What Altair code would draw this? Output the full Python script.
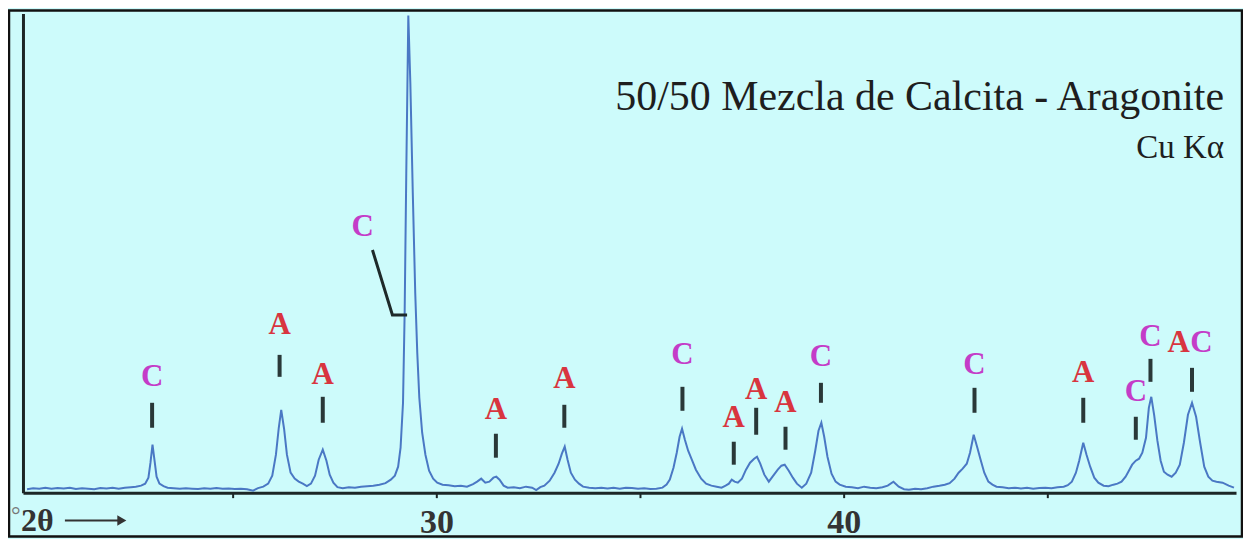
import altair as alt
import pandas as pd

# ---------------- data ----------------
two_theta = [
    19.95, 20.10, 20.25, 20.40, 20.55, 20.70, 20.85, 21.00, 21.15, 21.30, 21.45, 21.60, 21.75, 21.90,
    22.05, 22.20, 22.35, 22.50, 22.62, 22.75, 22.85, 22.93, 22.98, 23.03, 23.08, 23.13, 23.20, 23.30,
    23.40, 23.55, 23.70, 23.85, 24.00, 24.15, 24.30, 24.45, 24.60, 24.75, 24.90, 25.05, 25.20, 25.35,
    25.50, 25.62, 25.75, 25.87, 25.97, 26.06, 26.13, 26.19, 26.26, 26.33, 26.42, 26.52, 26.62, 26.72,
    26.82, 26.92, 27.02, 27.11, 27.21, 27.30, 27.38, 27.47, 27.57, 27.70, 27.85, 28.00, 28.15, 28.30,
    28.45, 28.60, 28.75, 28.88, 28.98, 29.06, 29.12, 29.18, 29.22, 29.26, 29.31, 29.36, 29.42, 29.48,
    29.53, 29.58, 29.65, 29.73, 29.82, 29.92, 30.02, 30.15, 30.30, 30.45, 30.60, 30.75, 30.90, 31.00,
    31.10, 31.20, 31.30, 31.40, 31.47, 31.55, 31.65, 31.75, 31.90, 32.05, 32.20, 32.35, 32.45, 32.55,
    32.65, 32.78, 32.90, 33.00, 33.08, 33.15, 33.22, 33.30, 33.40, 33.50, 33.60, 33.75, 33.90, 34.05,
    34.20, 34.35, 34.50, 34.65, 34.80, 34.95, 35.10, 35.25, 35.40, 35.55, 35.65, 35.73, 35.82, 35.90,
    35.97, 36.03, 36.10, 36.18, 36.27, 36.37, 36.50, 36.62, 36.75, 36.88, 37.00, 37.10, 37.18, 37.25,
    37.32, 37.40, 37.50, 37.60, 37.70, 37.80, 37.87, 37.95, 38.05, 38.16, 38.27, 38.38, 38.47, 38.55,
    38.65, 38.75, 38.85, 38.97, 39.08, 39.20, 39.30, 39.38, 39.45, 39.52, 39.60, 39.70, 39.80, 39.90,
    40.05, 40.20, 40.35, 40.50, 40.65, 40.80, 40.95, 41.08, 41.22, 41.35, 41.48, 41.60, 41.75, 41.90,
    42.05, 42.20, 42.35, 42.48, 42.60, 42.72, 42.82, 42.92, 43.02, 43.10, 43.19, 43.28, 43.36, 43.45,
    43.55, 43.65, 43.75, 43.90, 44.05, 44.20, 44.35, 44.50, 44.65, 44.80, 44.95, 45.10, 45.25, 45.40,
    45.50, 45.60, 45.70, 45.78, 45.88, 45.96, 46.05, 46.15, 46.25, 46.38, 46.50, 46.62, 46.72, 46.82,
    46.92, 47.00, 47.08, 47.17, 47.25, 47.33, 47.42, 47.49, 47.55, 47.62, 47.70, 47.78, 47.86, 47.95,
    48.05, 48.15, 48.25, 48.35, 48.45, 48.55, 48.65, 48.75, 48.85, 48.95, 49.05, 49.15, 49.30, 49.45,
    49.58,
]
intensity = [
    35, 45, 40, 48, 38, 46, 42, 50, 36, 44, 40, 35, 46, 42,
    48, 40, 50, 55, 60, 70, 90, 150, 300, 480, 320, 160, 90, 65,
    50, 45, 38, 45, 40, 36, 44, 40, 46, 38, 42, 36, 40, 34,
    20, 45, 60, 90, 170, 380, 650, 830, 640, 380, 200, 140, 110, 90,
    65, 90, 170, 330, 430, 320, 180, 100, 55, 45, 55, 50, 60, 65,
    70, 80, 95, 130, 170, 260, 450, 900, 1800, 3200, 4780, 4100, 3000, 2000,
    1400, 950, 600, 380, 220, 140, 100, 80, 75, 65, 70, 60, 85, 110,
    140, 100, 110, 150, 160, 130, 70, 50, 55, 45, 60, 50, 25, 55,
    70, 120, 200, 290, 390, 460, 330, 200, 130, 90, 60, 50, 45, 50,
    42, 48, 40, 50, 46, 40, 44, 36, 40, 50, 80, 130, 250, 400,
    560, 640, 530, 420, 330, 230, 140, 90, 70, 60, 50, 70, 90, 130,
    110, 100, 140, 230, 300, 340, 360, 290, 180, 110, 170, 230, 270, 280,
    220, 150, 90, 50, 90, 200, 420, 620, 700, 560, 360, 190, 110, 80,
    60, 55, 45, 60, 50, 45, 55, 70, 110, 60, 35, 30, 40, 35,
    45, 60, 70, 80, 95, 140, 200, 240, 290, 400, 580, 450, 330, 200,
    110, 80, 60, 55, 45, 50, 42, 48, 40, 46, 50, 45, 55, 60,
    75, 110, 200, 320, 500, 380, 260, 150, 100, 70, 65, 80, 90, 110,
    160, 220, 280, 320, 340, 400, 550, 850, 960, 780, 520, 320, 210, 180,
    160, 200, 280, 500, 780, 900, 760, 500, 260, 160, 120, 110, 100, 70,
    50,
]

# peak markers (short dark bars)
bar_x = [23.02, 26.15, 27.21, 31.46, 33.14, 36.04, 37.30, 37.85, 38.57, 39.44, 43.21, 45.88, 47.17, 47.53, 48.55]
bar_top = [900, 1380, 960, 590, 880, 1060, 510, 850, 660, 1100, 1050, 950, 760, 1340, 1250]
bar_bottom = [650, 1160, 700, 350, 650, 820, 280, 580, 430, 900, 800, 700, 530, 1110, 1010]

# phase letters (A = aragonite, C = calcite)
letter_x = [23.02, 26.15, 27.21, 31.46, 33.14, 36.04, 37.30, 37.85, 38.57, 39.44, 43.21, 45.88, 47.17, 47.53, 48.22, 48.78, 28.19]
letter_y = [1160, 1680, 1180, 830, 1140, 1380, 750, 1030, 900, 1360, 1280, 1200, 1010, 1560, 1500, 1500, 2660]
letter_t = ["C", "A", "A", "A", "A", "C", "A", "A", "A", "C", "C", "A", "C", "C", "A", "C", "C"]

# leader line for the main calcite peak
leader_x = [28.43, 28.92, 29.28]
leader_y = [2430, 1780, 1780]

title_text = "50/50 Mezcla de Calcita - Aragonite"
subtitle_text = "Cu K\u03b1"
tick_values = [25, 30, 35, 40, 45]

# ---------------- build chart ----------------
BG = "#cdfbfb"
W, H = 1215, 480
x_scale = alt.Scale(domain=[19.85, 49.63], nice=False, zero=False)
y_scale = alt.Scale(domain=[0, 4800], nice=False, zero=True)

trace = pd.DataFrame({"two_theta": two_theta, "intensity": intensity})
bars = pd.DataFrame({"x": bar_x, "y": bar_top, "y2": bar_bottom})
letters = pd.DataFrame({"x": letter_x, "y": letter_y, "t": letter_t})
leader = pd.DataFrame({"x": leader_x, "y": leader_y, "o": list(range(len(leader_x)))})

x_axis = alt.Axis(
    values=tick_values,
    labelExpr="datum.value % 10 == 0 ? datum.label : ''",
    domainColor="#1c2626", domainWidth=3,
    tickColor="#1c2626", tickWidth=2, tickSize=5,
    labelFont="Liberation Serif", labelFontSize=34, labelFontWeight="bold",
    labelColor="#333333", labelPadding=8, labelFlush=False,
    grid=False, title=None,
)
y_axis = alt.Axis(
    domainColor="#1c2626", domainWidth=3, ticks=False, labels=False,
    grid=False, title=None,
)

line = alt.Chart(trace).mark_line(color="#4a78c4", strokeWidth=2).encode(
    x=alt.X("two_theta:Q", scale=x_scale, axis=x_axis),
    y=alt.Y("intensity:Q", scale=y_scale, axis=y_axis),
)

bar_marks = alt.Chart(bars).mark_rule(color="#2a3838", strokeWidth=4).encode(
    x=alt.X("x:Q", scale=x_scale),
    y=alt.Y("y:Q", scale=y_scale),
    y2="y2:Q",
)

leader_line = alt.Chart(leader).mark_line(color="#1e2a2a", strokeWidth=3).encode(
    x=alt.X("x:Q", scale=x_scale),
    y=alt.Y("y:Q", scale=y_scale),
    order="o:Q",
)

letter_marks = alt.Chart(letters).mark_text(
    font="Liberation Serif", fontSize=31, fontWeight="bold", baseline="middle", align="center"
).encode(
    x=alt.X("x:Q", scale=x_scale),
    y=alt.Y("y:Q", scale=y_scale),
    text="t:N",
    color=alt.Color("t:N", scale=alt.Scale(domain=["A", "C"], range=["#d8353f", "#c43cc8"]), legend=None),
)

one = pd.DataFrame({"k": [0]})
title_mark = alt.Chart(one).mark_text(
    text=title_text, font="Liberation Serif", fontSize=42, align="right", baseline="alphabetic", color="#1e1e1e"
).encode(x=alt.value(1203), y=alt.value(97))
sub_mark = alt.Chart(one).mark_text(
    text=subtitle_text, font="Liberation Serif", fontSize=33, align="right", baseline="alphabetic", color="#1e1e1e"
).encode(x=alt.value(1203), y=alt.value(145))

deg_mark = alt.Chart(one).mark_text(
    text="\u00b0", font="Liberation Serif", fontSize=24, align="left", baseline="alphabetic", color="#777777"
).encode(x=alt.value(-12), y=alt.value(510))
twotheta_mark = alt.Chart(one).mark_text(
    text="2\u03b8", font="Liberation Serif", fontSize=32, fontWeight="bold", align="left",
    baseline="alphabetic", color="#333333"
).encode(x=alt.value(-2), y=alt.value(518))
arrow_shaft = alt.Chart(one).mark_rule(color="#333333", strokeWidth=2).encode(
    x=alt.value(42), x2=alt.value(98), y=alt.value(508)
)
arrow_head = alt.Chart(one).mark_point(
    shape="triangle-right", filled=True, color="#333333", size=110, opacity=1
).encode(x=alt.value(99), y=alt.value(508))

frame = alt.Chart(one).mark_rect(fill=None, stroke="#111111", strokeWidth=2.5).encode(
    x=alt.value(-14), x2=alt.value(1221), y=alt.value(-3), y2=alt.value(524)
)

chart = alt.layer(
    line, bar_marks, leader_line, letter_marks, title_mark, sub_mark,
    deg_mark, twotheta_mark, arrow_shaft, arrow_head, frame,
).properties(
    width=W, height=H,
    padding={"left": 15, "top": 5, "right": 7, "bottom": 46},
    autosize=alt.AutoSizeParams(type="none"),
    background=BG,
).configure_view(strokeWidth=0, fill=BG)

chart.save("out.html", embed_options={"renderer": "svg", "actions": False})
